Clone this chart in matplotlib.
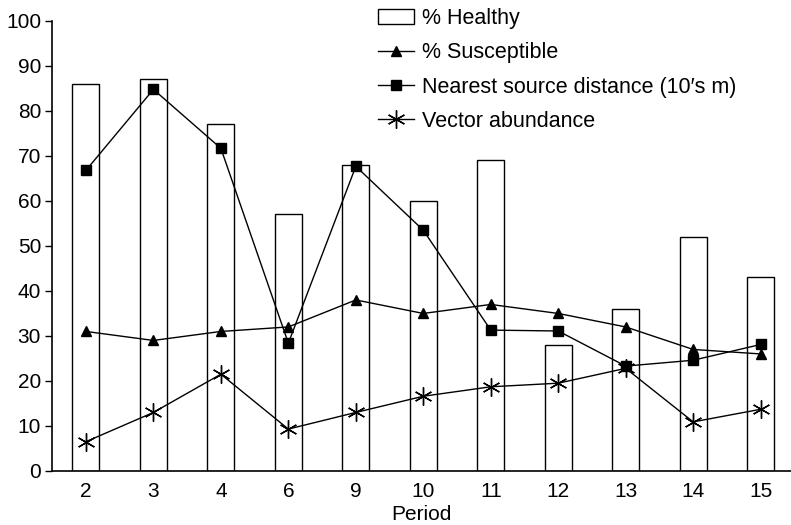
import matplotlib
matplotlib.use("Agg")
import matplotlib.pyplot as plt

plt.rcParams["font.family"] = ["Liberation Sans", "DejaVu Sans"]

periods = ["2", "3", "4", "6", "9", "10", "11", "12", "13", "14", "15"]
healthy = [86, 87, 77, 57, 68, 60, 69, 28, 36, 52, 43]
susceptible = [31, 29, 31, 32, 38, 35, 37, 35, 32, 27, 26]
source_dist = [66.8, 84.8, 71.7, 28.4, 67.7, 53.5, 31.3, 31.1, 23.3, 24.6, 28.1]
vector_abund = [6.5, 13, 21.5, 9.3, 13, 16.6, 18.7, 19.5, 22.8, 10.9, 13.7]

x = list(range(len(periods)))

fig = plt.figure(figsize=(7.91, 5.25), dpi=100)
ax = fig.add_axes([0.066, 0.103, 0.934, 0.857])

bars = ax.bar(x, healthy, width=0.4, facecolor="white", edgecolor="black",
              linewidth=1.0, label="% Healthy", zorder=1)
l1, = ax.plot(x, susceptible, color="black", linewidth=1.0, marker="^",
              markersize=7, label="% Susceptible", zorder=3)
l2, = ax.plot(x, source_dist, color="black", linewidth=1.0, marker="s",
              markersize=7, label="Nearest source distance (10\u2032s m)", zorder=3)
l3, = ax.plot(x, vector_abund, color="black", linewidth=1.0, marker=(6, 2, 0),
              markersize=13, markeredgewidth=1.0, label="Vector abundance", zorder=3)

ax.set_xlim(-0.5, 10.45)
ax.set_ylim(0, 100)
ax.set_yticks(range(0, 101, 10))
ax.set_xticks(x)
ax.set_xticklabels(periods)
ax.tick_params(axis="x", length=0, pad=8, labelsize=15)
ax.tick_params(axis="y", length=5, width=1, labelsize=15, pad=3)

ax.spines["top"].set_visible(False)
ax.spines["right"].set_visible(False)
ax.spines["left"].set_linewidth(1.2)
ax.spines["bottom"].set_linewidth(1.2)

ax.set_xlabel("Period", fontsize=15, labelpad=2.5)

fig.legend([bars, l1, l2, l3],
           ["% Healthy", "% Susceptible", "Nearest source distance (10\u2032s m)",
            "Vector abundance"],
           loc="upper left", bbox_to_anchor=(0.478, 0.985), frameon=False,
           fontsize=15.5, handlelength=1.67, handletextpad=0.37,
           labelspacing=0.62, borderpad=0, borderaxespad=0)

fig.savefig("out.png", dpi=100)
